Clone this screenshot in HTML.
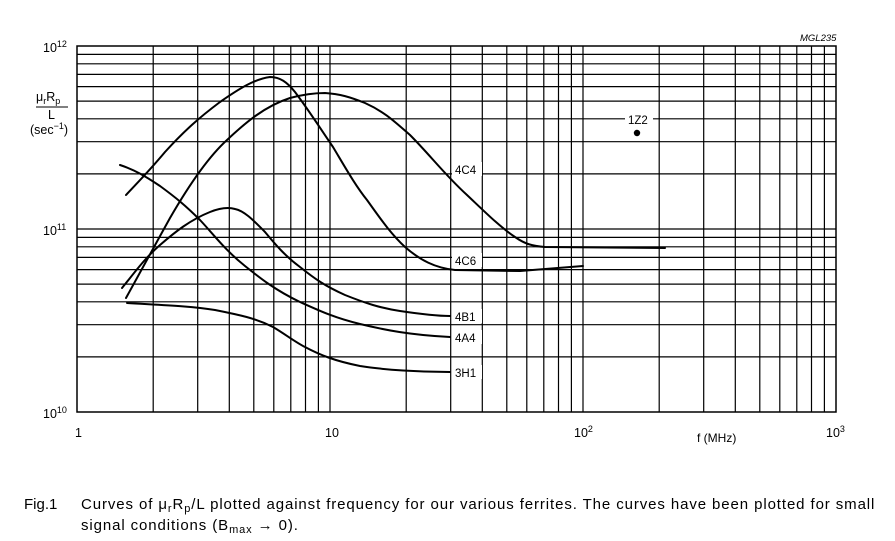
<!DOCTYPE html>
<html><head><meta charset="utf-8"><style>
body{margin:0;background:#fff;width:895px;height:541px;overflow:hidden;font-family:"Liberation Sans",Arial,sans-serif}
svg{position:absolute;left:0;top:0}
</style></head><body>
<svg width="895" height="541" xmlns="http://www.w3.org/2000/svg" font-family="Liberation Sans, Arial, sans-serif">
<g stroke="#000" stroke-width="1.2" fill="none">
<rect x="77" y="46" width="759" height="366" stroke-width="1.5"/>
<path d="M153.2 46V412M197.7 46V412M229.3 46V412M253.8 46V412M273.8 46V412M290.8 46V412M305.5 46V412M318.4 46V412M330 46V412
M406.2 46V412M450.7 46V412M482.3 46V412M506.8 46V412M526.8 46V412M543.8 46V412M558.5 46V412M571.4 46V412M583 46V412
M659.2 46V412M703.7 46V412M735.3 46V412M759.8 46V412M779.8 46V412M796.8 46V412M811.5 46V412M824.4 46V412"/>
<path d="M77 356.9H836M77 324.7H836M77 301.8H836M77 284.1H836M77 269.6H836M77 257.4H836M77 246.8H836M77 237.4H836M77 229H836
M77 173.9H836M77 141.7H836M77 118.8H836M77 101.1H836M77 86.6H836M77 74.4H836M77 63.8H836M77 54.4H836"/>
</g>
<g stroke="#000" stroke-width="2" fill="none" stroke-linejoin="round" stroke-linecap="round">
<path d="M126 195 C140 180 150 170 165 152 C185 130 200 117 220 102 C240 88 255 79 270 77 C280 77 287 82 295 92 C310 112 320 128 333 147 C345 167 355 185 367 200 C380 218 390 233 405 247 C420 260 435 268 455 270 L520 271 L583 266"/>
<path d="M126 298 C140 273 155 245 170 218 C185 192 205 160 227 140 C245 123 265 106 290 98 C305 94 315 93 325 93 C340 94 350 97 365 103 C385 112 395 122 410 135 C430 155 445 175 467 195 C485 212 500 227 515 237 C525 244 532 246 545 247 L665 248"/>
<path d="M122 288 C135 272 145 258 160 245 C175 232 190 220 210 212 C220 208 228 207 235 209 C245 211 255 222 265 232 C275 244 285 256 300 267 C315 279 325 286 345 295 C365 303 380 308 400 311 C420 314 435 316 450 316"/>
<path d="M120 165 C135 170 145 176 160 186 C175 197 185 205 200 220 C215 236 225 250 245 266 C260 278 275 290 300 302 C320 311 335 318 360 324 C385 330 410 335 450 337"/>
<path d="M127 303 C160 305 190 306 215 310 C240 315 255 318 273 327 C285 334 295 342 305 347 C320 355 335 361 360 366 C385 370 420 372 450 372"/>
</g>
<g font-size="11.5" fill="#000">
<rect x="452" y="162" width="30" height="14" fill="#fff"/><text x="455" y="174">4C4</text>
<rect x="452" y="253" width="30" height="14" fill="#fff"/><text x="455" y="265">4C6</text>
<rect x="452" y="309" width="30" height="14" fill="#fff"/><text x="455" y="321">4B1</text>
<rect x="452" y="330" width="30" height="14" fill="#fff"/><text x="455" y="342">4A4</text>
<rect x="452" y="365" width="30" height="14" fill="#fff"/><text x="455" y="377">3H1</text>
<rect x="625" y="112" width="28" height="14" fill="#fff"/><text x="628" y="124">1Z2</text>
<circle cx="637" cy="133" r="3.2"/>
<text x="800" y="41" font-size="9.5" font-style="italic">MGL235</text>
<text x="43" y="52" font-size="12.5">10<tspan font-size="9" dy="-5">12</tspan></text>
<text x="43" y="235" font-size="12.5">10<tspan font-size="9" dy="-5">11</tspan></text>
<text x="43" y="418" font-size="12.5">10<tspan font-size="9" dy="-5">10</tspan></text>
<text x="75" y="437" font-size="12.5">1</text>
<text x="325" y="437" font-size="12.5">10</text>
<text x="574" y="437" font-size="12.5">10<tspan font-size="9" dy="-5">2</tspan></text>
<text x="826" y="437" font-size="12.5">10<tspan font-size="9" dy="-5">3</tspan></text>
<text x="697" y="442" font-size="12">f (MHz)</text>
<text x="36" y="101" font-size="12.5">μ<tspan font-size="9" dy="3">r</tspan><tspan dy="-3">R</tspan><tspan font-size="9" dy="3">p</tspan></text>
<line x1="36" y1="107" x2="68" y2="107" stroke="#000" stroke-width="1"/>
<text x="48" y="119" font-size="12.5">L</text>
<text x="30" y="134" font-size="12.5">(sec<tspan font-size="9" dy="-5">−1</tspan><tspan dy="5">)</tspan></text>
</g>
<g font-size="15" fill="#000">
<text x="24" y="509">Fig.1</text>
<text x="81" y="509" letter-spacing="0.9">Curves of μ<tspan font-size="11" dy="3">r</tspan><tspan dy="-3">R</tspan><tspan font-size="11" dy="3">p</tspan><tspan dy="-3">/L plotted against frequency for our various ferrites. The curves have been plotted for small</tspan></text>
<text x="81" y="530" letter-spacing="0.9">signal conditions (B<tspan font-size="11" dy="3">max</tspan><tspan dy="-3"> → 0).</tspan></text>
</g>
</svg>
</body></html>
